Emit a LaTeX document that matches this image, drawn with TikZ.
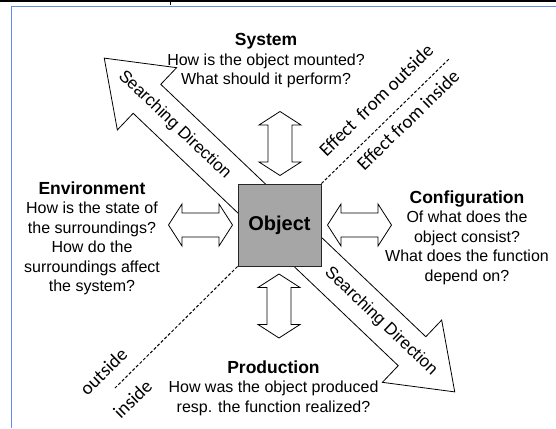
\documentclass[tikz,border=0pt]{standalone}
\usepackage{fontspec}
\setmainfont{Liberation Sans}
\newfontfamily\effectfont{Carlito}
\usepackage{tikz}
\usetikzlibrary{positioning,calc}

\definecolor{objgray}{RGB}{166,166,166}
\definecolor{frameblue}{RGB}{95,140,235}

\begin{document}
\begin{tikzpicture}[x=1pt, y=-1pt,
    outline/.style={draw=black, line width=0.8pt, fill=white},
    block/.style={font=\fontsize{16}{19.5}\selectfont, align=center, inner sep=0pt, anchor=north},
    effect/.style={font=\effectfont\fontsize{19}{22}\selectfont, inner sep=0pt, rotate=44.3},
    searchtext/.style={font=\fontsize{17}{20}\selectfont, inner sep=0pt, rotate=-43.6},
    border/.style={densely dashed, line width=1pt}]

\useasboundingbox (0,0) rectangle (556,428);

% Helper macro for a hollow double arrow
% Arguments: x, y, rotation
\def\dblarrow#1#2#3{
    \begin{scope}[shift={(#1,#2)}, rotate=#3]
    \draw[outline] (-32,0) -- (-18.5,-21) -- (-18.5,-12) -- (18.5,-12) -- (18.5,-21)
        -- (32,0) -- (18.5,21) -- (18.5,12) -- (-18.5,12) -- (-18.5,21) -- cycle;
    \end{scope}
}

% Helper macro for the big searching arrows
% Arguments: direction, distance of the label
\def\searcharrow#1#2{
    \begin{scope}[shift={(c)}, rotate=#1]
    \draw[outline] (0,-20) -- (183,-20) -- (183,-43) -- (242,0) -- (183,43) -- (183,20) -- (0,20) -- cycle;
    \node[searchtext] at (#2,0) {Searching Direction};
    \end{scope}
}

\def\headline#1{{\fontsize{17.5}{19.5}\selectfont\bfseries #1}}

% Page frame
\draw[line width=2.2pt] (0,1.2) -- (556,1.2);
\draw[line width=1pt] (170,2) -- (170,5.5);
\draw[frameblue, line width=1.3pt] (11.5,428) |- (556,6.5);

% Searching directions (behind the object)
\coordinate (c) at (279.5,225);
\searcharrow{136.4}{145}
\searcharrow{-43.6}{140}

% Object
\node[draw=black!85, line width=0.8pt, fill=objgray, minimum width=83pt, minimum height=82pt,
    inner sep=0pt, font=\fontsize{20}{24}\selectfont\bfseries] (object) at (c) {Object};

% Border between outside and inside
\coordinate (ne end) at (450,58);
\coordinate (sw end) at (115,388);
\draw[border] (object.north east) -- (ne end);
\draw[border] (object.south west) -- (sw end);
\node[effect] (fromout) at (376,100) {Effect\ \ from outside};
\node[effect] (fromin) at (408,120) {Effect from inside};
\node[effect] (outside) at (103.5,371.5) {outside};
\node[effect] (inside) at (132.5,399) {inside};

% Double arrows
\dblarrow{280}{143.5}{90}
\dblarrow{279}{306}{90}
\dblarrow{200.5}{225}{0}
\dblarrow{359.5}{225}{0}

% Questions
\node[block] (system) at (266,33.2)
    {\headline{System}\\How is the object mounted?\\What should it perform?};
\node[block] (environment) at (92,181.2)
    {\headline{Environment}\\How is the state of\\the surroundings?\\How do the\\surroundings affect\\the system?};
\node[block] (configuration) at (467,190.5)
    {\headline{Configuration}\\Of what does the\\object consist?\\What does the function\\depend on?};
\node[block] (production) at (273.5,360.5)
    {\headline{Production}\\How was the object produced\\resp. the function realized?};

\end{tikzpicture}
\end{document}
